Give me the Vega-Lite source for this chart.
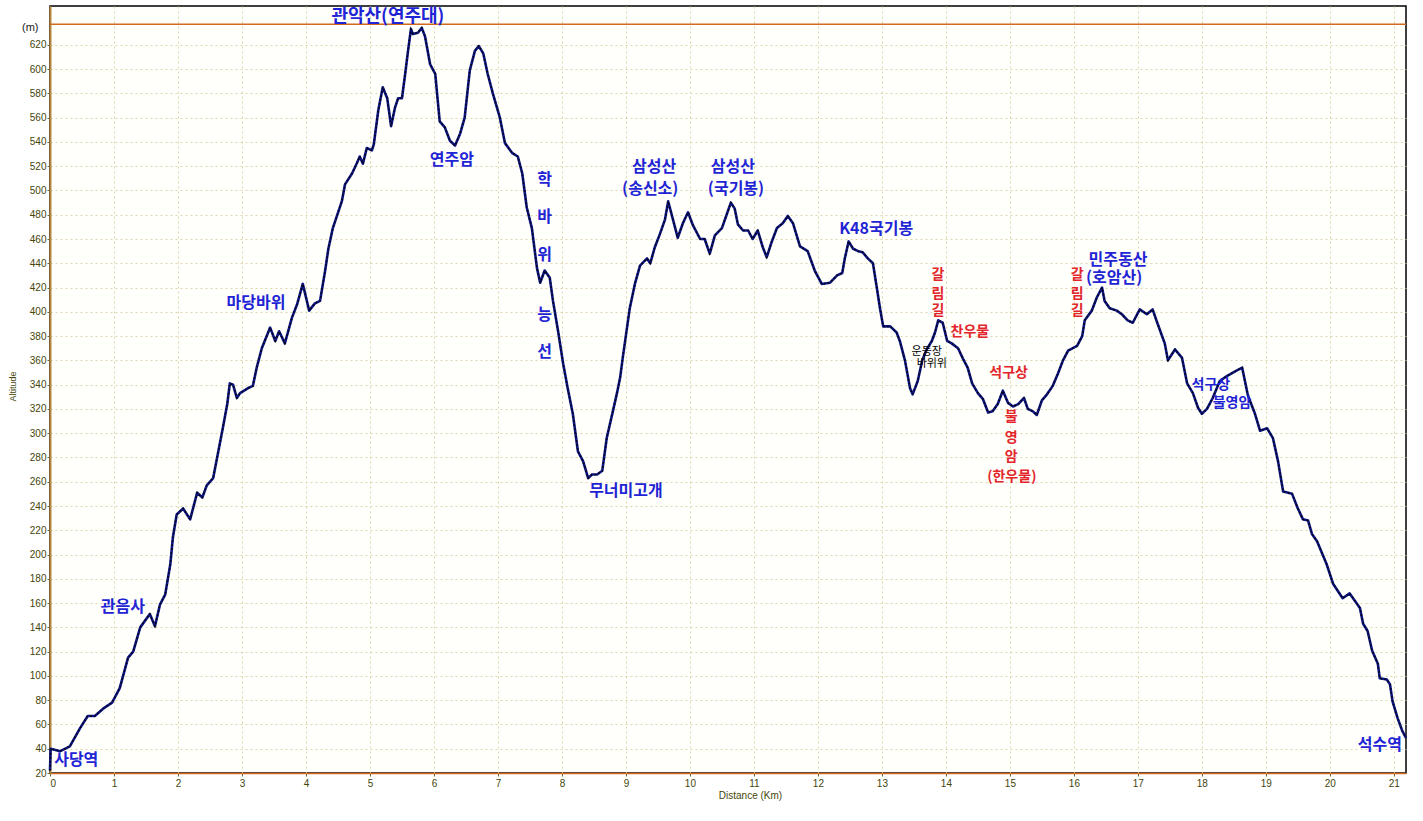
{
  "$schema": "https://vega.github.io/schema/vega-lite/v6.json",
  "width": 1356,
  "height": 767,
  "autosize": {"type": "none"},
  "padding": {"left": 50, "top": 6, "right": 17, "bottom": 48},
  "background": "#ffffff",
  "title": {
    "text": "(m)",
    "frame": "group",
    "anchor": "start",
    "orient": "top",
    "align": "left",
    "baseline": "middle",
    "dx": -28,
    "offset": -33,
    "font": "Liberation Sans",
    "fontSize": 11,
    "fontWeight": "normal",
    "color": "#202020"
  },
  "config": {
    "view": {"stroke": "#000000", "strokeWidth": 1.5, "fill": "#fffffb"},
    "axis": {
      "labelFont": "Liberation Sans",
      "labelFontSize": 10,
      "labelColor": "#45450a",
      "labelOverlap": false,
      "tickColor": "#6a6a30",
      "tickSize": 3,
      "gridColor": "#dcd5ae",
      "gridDash": [2, 3],
      "gridWidth": 1,
      "titleFont": "Liberation Sans",
      "titleFontSize": 9,
      "titleFontWeight": "normal",
      "titleColor": "#45450a"
    },
    "text": {"font": "Noto Sans CJK KR"}
  },
  "datasets": {
    "profile": [
      {"km":0,"alt":22},{"km":0.01,"alt":40},{"km":0.16,"alt":38},{"km":0.31,"alt":42},{"km":0.47,"alt":57},{"km":0.59,"alt":67},{"km":0.70,"alt":67},{"km":0.83,"alt":73},{"km":0.97,"alt":78},{"km":1.09,"alt":90},{"km":1.22,"alt":115},{"km":1.30,"alt":120},{"km":1.41,"alt":140},{"km":1.56,"alt":151},{"km":1.64,"alt":141},{"km":1.72,"alt":159},{"km":1.80,"alt":167},{"km":1.88,"alt":192},{"km":1.92,"alt":214},{"km":1.98,"alt":233},{"km":2.08,"alt":238},{"km":2.19,"alt":229},{"km":2.30,"alt":251},{"km":2.38,"alt":247},{"km":2.45,"alt":257},{"km":2.55,"alt":263},{"km":2.63,"alt":285},{"km":2.70,"alt":304},{"km":2.77,"alt":324},{"km":2.81,"alt":341},{"km":2.86,"alt":340},{"km":2.92,"alt":329},{"km":2.97,"alt":333},{"km":3.09,"alt":337},{"km":3.17,"alt":339},{"km":3.23,"alt":354},{"km":3.31,"alt":370},{"km":3.44,"alt":387},{"km":3.52,"alt":376},{"km":3.58,"alt":384},{"km":3.67,"alt":374},{"km":3.78,"alt":395},{"km":3.86,"alt":406},{"km":3.95,"alt":423},{"km":4.05,"alt":401},{"km":4.14,"alt":407},{"km":4.22,"alt":409},{"km":4.30,"alt":434},{"km":4.35,"alt":452},{"km":4.42,"alt":469},{"km":4.56,"alt":491},{"km":4.61,"alt":505},{"km":4.72,"alt":514},{"km":4.80,"alt":523},{"km":4.84,"alt":528},{"km":4.89,"alt":522},{"km":4.95,"alt":535},{"km":5.03,"alt":533},{"km":5.06,"alt":538},{"km":5.13,"alt":566},{"km":5.20,"alt":585},{"km":5.27,"alt":576},{"km":5.33,"alt":553},{"km":5.39,"alt":568},{"km":5.44,"alt":576},{"km":5.50,"alt":576},{"km":5.55,"alt":596},{"km":5.59,"alt":613},{"km":5.64,"alt":633},{"km":5.67,"alt":629},{"km":5.75,"alt":630},{"km":5.81,"alt":634},{"km":5.86,"alt":627},{"km":5.94,"alt":604},{"km":6.02,"alt":596},{"km":6.09,"alt":557},{"km":6.17,"alt":552},{"km":6.25,"alt":541},{"km":6.33,"alt":537},{"km":6.41,"alt":547},{"km":6.48,"alt":560},{"km":6.56,"alt":599},{"km":6.64,"alt":615},{"km":6.70,"alt":619},{"km":6.77,"alt":613},{"km":6.84,"alt":596},{"km":6.92,"alt":580},{"km":7.03,"alt":560},{"km":7.11,"alt":539},{"km":7.22,"alt":531},{"km":7.31,"alt":528},{"km":7.38,"alt":514},{"km":7.45,"alt":486},{"km":7.53,"alt":469},{"km":7.61,"alt":436},{"km":7.66,"alt":424},{"km":7.73,"alt":434},{"km":7.81,"alt":428},{"km":7.86,"alt":409},{"km":7.94,"alt":384},{"km":8.02,"alt":357},{"km":8.09,"alt":337},{"km":8.17,"alt":316},{"km":8.25,"alt":285},{"km":8.33,"alt":277},{"km":8.41,"alt":263},{"km":8.47,"alt":266},{"km":8.55,"alt":266},{"km":8.63,"alt":269},{"km":8.70,"alt":296},{"km":8.80,"alt":319},{"km":8.86,"alt":333},{"km":8.91,"alt":346},{"km":8.95,"alt":362},{"km":9.06,"alt":403},{"km":9.14,"alt":423},{"km":9.22,"alt":438},{"km":9.33,"alt":444},{"km":9.38,"alt":440},{"km":9.45,"alt":453},{"km":9.53,"alt":464},{"km":9.61,"alt":476},{"km":9.66,"alt":491},{"km":9.72,"alt":479},{"km":9.81,"alt":461},{"km":9.89,"alt":473},{"km":9.97,"alt":482},{"km":10.05,"alt":471},{"km":10.16,"alt":460},{"km":10.23,"alt":460},{"km":10.31,"alt":448},{"km":10.39,"alt":463},{"km":10.50,"alt":469},{"km":10.58,"alt":481},{"km":10.64,"alt":490},{"km":10.70,"alt":485},{"km":10.75,"alt":472},{"km":10.83,"alt":467},{"km":10.91,"alt":467},{"km":10.98,"alt":460},{"km":11.06,"alt":467},{"km":11.14,"alt":453},{"km":11.20,"alt":445},{"km":11.28,"alt":458},{"km":11.36,"alt":469},{"km":11.45,"alt":473},{"km":11.53,"alt":479},{"km":11.61,"alt":473},{"km":11.72,"alt":454},{"km":11.84,"alt":450},{"km":11.95,"alt":434},{"km":12.06,"alt":423},{"km":12.19,"alt":424},{"km":12.30,"alt":430},{"km":12.38,"alt":432},{"km":12.42,"alt":444},{"km":12.48,"alt":458},{"km":12.55,"alt":452},{"km":12.63,"alt":450},{"km":12.70,"alt":449},{"km":12.78,"alt":444},{"km":12.86,"alt":440},{"km":12.92,"alt":420},{"km":12.97,"alt":403},{"km":13.02,"alt":388},{"km":13.13,"alt":388},{"km":13.23,"alt":383},{"km":13.28,"alt":376},{"km":13.36,"alt":360},{"km":13.44,"alt":337},{"km":13.48,"alt":332},{"km":13.56,"alt":343},{"km":13.63,"alt":360},{"km":13.70,"alt":369},{"km":13.78,"alt":376},{"km":13.83,"alt":383},{"km":13.88,"alt":393},{"km":13.95,"alt":391},{"km":14.02,"alt":376},{"km":14.09,"alt":374},{"km":14.19,"alt":370},{"km":14.27,"alt":361},{"km":14.34,"alt":354},{"km":14.41,"alt":341},{"km":14.50,"alt":333},{"km":14.58,"alt":328},{"km":14.66,"alt":317},{"km":14.73,"alt":318},{"km":14.81,"alt":324},{"km":14.89,"alt":335},{"km":14.97,"alt":325},{"km":15.05,"alt":322},{"km":15.13,"alt":324},{"km":15.22,"alt":329},{"km":15.28,"alt":320},{"km":15.36,"alt":318},{"km":15.42,"alt":315},{"km":15.50,"alt":327},{"km":15.58,"alt":332},{"km":15.67,"alt":339},{"km":15.75,"alt":349},{"km":15.83,"alt":360},{"km":15.91,"alt":368},{"km":16.05,"alt":372},{"km":16.13,"alt":380},{"km":16.17,"alt":393},{"km":16.28,"alt":401},{"km":16.36,"alt":412},{"km":16.44,"alt":420},{"km":16.48,"alt":409},{"km":16.56,"alt":403},{"km":16.67,"alt":401},{"km":16.75,"alt":398},{"km":16.84,"alt":393},{"km":16.92,"alt":391},{"km":17.03,"alt":402},{"km":17.14,"alt":398},{"km":17.23,"alt":402},{"km":17.31,"alt":390},{"km":17.42,"alt":374},{"km":17.47,"alt":360},{"km":17.58,"alt":369},{"km":17.69,"alt":362},{"km":17.77,"alt":341},{"km":17.86,"alt":333},{"km":17.94,"alt":321},{"km":18.00,"alt":316},{"km":18.08,"alt":320},{"km":18.17,"alt":329},{"km":18.28,"alt":343},{"km":18.39,"alt":347},{"km":18.52,"alt":351},{"km":18.63,"alt":354},{"km":18.72,"alt":331},{"km":18.83,"alt":316},{"km":18.91,"alt":302},{"km":19.02,"alt":304},{"km":19.11,"alt":296},{"km":19.19,"alt":277},{"km":19.27,"alt":252},{"km":19.41,"alt":250},{"km":19.50,"alt":238},{"km":19.58,"alt":229},{"km":19.66,"alt":228},{"km":19.72,"alt":217},{"km":19.80,"alt":211},{"km":19.95,"alt":192},{"km":20.05,"alt":176},{"km":20.20,"alt":164},{"km":20.31,"alt":168},{"km":20.47,"alt":156},{"km":20.52,"alt":143},{"km":20.59,"alt":137},{"km":20.66,"alt":121},{"km":20.75,"alt":110},{"km":20.78,"alt":98},{"km":20.89,"alt":97},{"km":20.94,"alt":93},{"km":20.98,"alt":79},{"km":21.06,"alt":65},{"km":21.13,"alt":55},{"km":21.19,"alt":49}
    ],
    "maxAltitude": [{"alt": 637}],
    "blueTop": [{"label": "관악산(연주대)", "km": 5.28, "alt": 643}],
    "blue": [
      {"label": "연주암", "km": 6.28, "alt": 525},
      {"label": "학", "km": 7.73, "alt": 509},
      {"label": "바", "km": 7.73, "alt": 478},
      {"label": "위", "km": 7.73, "alt": 447},
      {"label": "능", "km": 7.73, "alt": 397},
      {"label": "선", "km": 7.73, "alt": 367},
      {"label": "무너미고개", "km": 9.0, "alt": 252},
      {"label": "삼성산", "km": 9.44, "alt": 519},
      {"label": "(송신소)", "km": 9.38, "alt": 501},
      {"label": "삼성산", "km": 10.67, "alt": 519},
      {"label": "(국기봉)", "km": 10.72, "alt": 501},
      {"label": "K48국기봉", "km": 12.91, "alt": 468},
      {"label": "민주동산", "km": 16.69, "alt": 443},
      {"label": "(호암산)", "km": 16.63, "alt": 428},
      {"label": "마당바위", "km": 3.22, "alt": 407},
      {"label": "관음사", "km": 1.14, "alt": 157},
      {"label": "사당역", "km": 0.41, "alt": 31},
      {"label": "석수역", "km": 20.78, "alt": 43}
    ],
    "blueSmall": [
      {"label": "석구상", "km": 18.14, "alt": 340},
      {"label": "불영암", "km": 18.47, "alt": 325}
    ],
    "red": [
      {"label": "갈", "km": 13.875, "alt": 430},
      {"label": "림", "km": 13.875, "alt": 415},
      {"label": "길", "km": 13.875, "alt": 401},
      {"label": "찬우물", "km": 14.375, "alt": 383.5},
      {"label": "석구상", "km": 14.98, "alt": 350},
      {"label": "불", "km": 15.02, "alt": 313},
      {"label": "영", "km": 15.02, "alt": 296},
      {"label": "암", "km": 15.02, "alt": 280},
      {"label": "(한우물)", "km": 15.03, "alt": 264},
      {"label": "갈", "km": 16.05, "alt": 430},
      {"label": "림", "km": 16.05, "alt": 415},
      {"label": "길", "km": 16.05, "alt": 401}
    ],
    "black": [
      {"label": "운동장", "km": 13.70, "alt": 367},
      {"label": "바위위", "km": 13.78, "alt": 357}
    ]
  },
  "encoding": {
    "y": {
      "field": "alt",
      "type": "quantitative",
      "scale": {"domain": [20, 652], "nice": false, "zero": false},
      "axis": {
        "values": [20,40,60,80,100,120,140,160,180,200,220,240,260,280,300,320,340,360,380,400,420,440,460,480,500,520,540,560,580,600,620],
        "labelOverlap": false,
        "title": "Altitude",
        "titleX": -38,
        "titleY": 380,
        "titleAlign": "center",
        "titleBaseline": "middle",
        "domainColor": "#b8863c",
        "domainWidth": 2,
        "labelPadding": 1
      }
    }
  },
  "layer": [
    {
      "data": {"name": "profile"},
      "mark": {"type": "line", "color": "#0d1580", "strokeWidth": 2.6, "strokeJoin": "round"},
      "encoding": {
        "x": {
          "field": "km",
          "type": "quantitative",
          "scale": {"domain": [0, 21.19], "nice": false, "zero": false},
          "axis": {
            "values": [0,1,2,3,4,5,6,7,8,9,10,11,12,13,14,15,16,17,18,19,20,21],
            "format": "d",
            "labelOverlap": false,
            "title": "Distance (Km)",
            "titleFontSize": 10,
            "titleX": 700,
            "titleY": 22,
            "titleBaseline": "middle",
            "domainColor": "#d2691e",
            "domainWidth": 1.5,
            "labelPadding": 2
          }
        }
      }
    },
    {
      "data": {"name": "profile"},
      "mark": {"type": "line", "color": "#000000", "strokeWidth": 1.5, "strokeDash": [1.5, 2.5]},
      "encoding": {
        "x": {"field": "km", "type": "quantitative"}
      }
    },
    {
      "data": {"name": "maxAltitude"},
      "mark": {"type": "rule", "color": "#d2691e", "strokeWidth": 1.5},
      "encoding": {}
    },
    {
      "data": {"name": "blueTop"},
      "mark": {"type": "text", "fontSize": 18, "fontWeight": "bold", "color": "#1f24d4", "align": "center", "baseline": "middle"},
      "encoding": {"x": {"field": "km", "type": "quantitative"}, "text": {"field": "label"}}
    },
    {
      "data": {"name": "blue"},
      "mark": {"type": "text", "fontSize": 16, "fontWeight": "bold", "color": "#1f24d4", "align": "center", "baseline": "middle"},
      "encoding": {"x": {"field": "km", "type": "quantitative"}, "text": {"field": "label"}}
    },
    {
      "data": {"name": "blueSmall"},
      "mark": {"type": "text", "fontSize": 14, "fontWeight": "bold", "color": "#1f24d4", "align": "center", "baseline": "middle"},
      "encoding": {"x": {"field": "km", "type": "quantitative"}, "text": {"field": "label"}}
    },
    {
      "data": {"name": "red"},
      "mark": {"type": "text", "fontSize": 14, "fontWeight": "bold", "color": "#e3262c", "align": "center", "baseline": "middle"},
      "encoding": {"x": {"field": "km", "type": "quantitative"}, "text": {"field": "label"}}
    },
    {
      "data": {"name": "black"},
      "mark": {"type": "text", "fontSize": 11, "color": "#000000", "align": "center", "baseline": "middle"},
      "encoding": {"x": {"field": "km", "type": "quantitative"}, "text": {"field": "label"}}
    }
  ]
}
